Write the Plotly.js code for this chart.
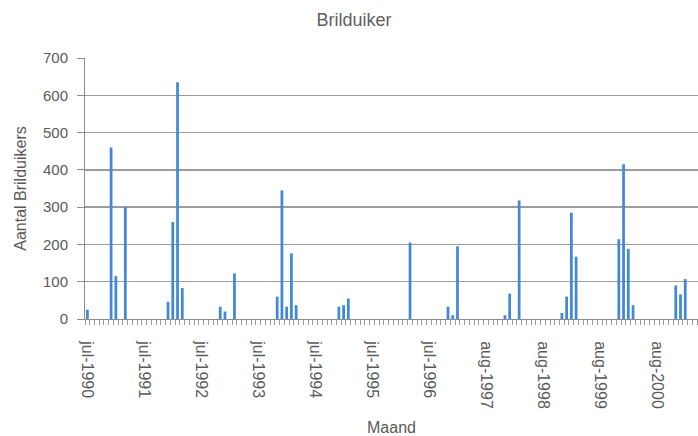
<!DOCTYPE html>
<html>
<head>
<meta charset="utf-8">
<script src="https://cdn.plot.ly/plotly-3.0.1.min.js"></script>
<style>
  html, body { margin: 0; padding: 0; background: #ffffff; }
  #chart { width: 698px; height: 436px; }
</style>
</head>
<body>
<div id="chart"></div>
<script>
// Monthly counts of Brilduikers (common goldeneye), jul-1990 onwards.
// jul-1997 has no record, so the series runs from jun-1997 straight to aug-1997.
const categories = [
  "jul-1990","aug-1990","sep-1990","okt-1990","nov-1990","dec-1990",
  "jan-1991","feb-1991","mrt-1991","apr-1991","mei-1991","jun-1991","jul-1991","aug-1991","sep-1991","okt-1991","nov-1991","dec-1991",
  "jan-1992","feb-1992","mrt-1992","apr-1992","mei-1992","jun-1992","jul-1992","aug-1992","sep-1992","okt-1992","nov-1992","dec-1992",
  "jan-1993","feb-1993","mrt-1993","apr-1993","mei-1993","jun-1993","jul-1993","aug-1993","sep-1993","okt-1993","nov-1993","dec-1993",
  "jan-1994","feb-1994","mrt-1994","apr-1994","mei-1994","jun-1994","jul-1994","aug-1994","sep-1994","okt-1994","nov-1994","dec-1994",
  "jan-1995","feb-1995","mrt-1995","apr-1995","mei-1995","jun-1995","jul-1995","aug-1995","sep-1995","okt-1995","nov-1995","dec-1995",
  "jan-1996","feb-1996","mrt-1996","apr-1996","mei-1996","jun-1996","jul-1996","aug-1996","sep-1996","okt-1996","nov-1996","dec-1996",
  "jan-1997","feb-1997","mrt-1997","apr-1997","mei-1997","jun-1997","aug-1997","sep-1997","okt-1997","nov-1997","dec-1997",
  "jan-1998","feb-1998","mrt-1998","apr-1998","mei-1998","jun-1998","jul-1998","aug-1998","sep-1998","okt-1998","nov-1998","dec-1998",
  "jan-1999","feb-1999","mrt-1999","apr-1999","mei-1999","jun-1999","jul-1999","aug-1999","sep-1999","okt-1999","nov-1999","dec-1999",
  "jan-2000","feb-2000","mrt-2000","apr-2000","mei-2000","jun-2000","jul-2000","aug-2000","sep-2000","okt-2000","nov-2000","dec-2000",
  "jan-2001","feb-2001","mrt-2001","apr-2001","mei-2001"
];

const counts = [
  25, 0, 0, 0, 0, 460,
  115, 0, 300, 0, 0, 0, 0, 0, 0, 0, 0, 46,
  260, 635, 83, 0, 0, 0, 0, 0, 0, 0, 33, 20,
  0, 122, 0, 0, 0, 0, 0, 0, 0, 0, 60, 345,
  33, 176, 37, 0, 0, 0, 0, 0, 0, 0, 0, 33,
  37, 55, 0, 0, 0, 0, 0, 0, 0, 0, 0, 0,
  0, 0, 205, 0, 0, 0, 0, 0, 0, 0, 33, 10,
  195, 0, 0, 0, 0, 0, 0, 0, 0, 0, 10,
  68, 0, 318, 0, 0, 0, 0, 0, 0, 0, 0, 16,
  60, 285, 167, 0, 0, 0, 0, 0, 0, 0, 0, 214,
  415, 188, 37, 0, 0, 0, 0, 0, 0, 0, 0, 90,
  66, 107, 0, 0, 0
];

const tickLabels = [
  "jul-1990","jul-1991","jul-1992","jul-1993","jul-1994","jul-1995",
  "jul-1996","aug-1997","aug-1998","aug-1999","aug-2000"
];

const positions = categories.map((_, i) => i);
const tickPositions = tickLabels.map(l => categories.indexOf(l));

const textGray = "#5a5a5a";
const fontFamily = "'Liberation Sans', Arial, sans-serif";

const trace = {
  type: "bar",
  x: positions,
  y: counts,
  hovertext: categories,
  hoverinfo: "text+y",
  marker: { color: "#4189d6", line: { width: 0 } }
};

const layout = {
  width: 698,
  height: 436,
  margin: { l: 85, r: 0, t: 58, b: 117, pad: 0 },
  paper_bgcolor: "#ffffff",
  plot_bgcolor: "#ffffff",
  showlegend: false,
  bargap: 0.42,
  font: { family: fontFamily, color: textGray },
  title: {
    text: "Brilduiker",
    font: { size: 18, color: "#606060", family: fontFamily },
    x: 354 / 698, xref: "container", xanchor: "center",
    y: 1 - 20 / 436, yref: "container", yanchor: "middle"
  },
  xaxis: {
    type: "linear",
    range: [-0.5, (698 - 85) / 4.745 - 0.5],
    tickmode: "array",
    tickvals: tickPositions,
    ticktext: tickLabels,
    tickangle: 90,
    ticks: "",
    ticklabelstandoff: 18,
    tickfont: { size: 16, color: textGray },
    showgrid: false,
    zeroline: false,
    showline: true,
    linecolor: "#8c8c8c",
    linewidth: 1,
    minor: {
      tickmode: "linear",
      tick0: 0.5,
      dtick: 1,
      ticks: "outside",
      ticklen: 5,
      tickwidth: 1,
      tickcolor: "#9a9a9a",
      showgrid: false
    },
    title: {
      text: "Maand",
      font: { size: 16, color: textGray },
      standoff: 14
    }
  },
  yaxis: {
    range: [0, 700],
    dtick: 100,
    ticks: "outside",
    ticklen: 7,
    tickcolor: "#8c8c8c",
    ticklabelstandoff: 6,
    tickfont: { size: 15, color: textGray },
    showgrid: true,
    gridcolor: "#9c9c9c",
    gridwidth: 1.5,
    zeroline: false,
    showline: true,
    linecolor: "#8c8c8c",
    linewidth: 1,
    title: {
      text: "Aantal Brilduikers",
      font: { size: 16, color: textGray },
      standoff: 12
    }
  }
};

Plotly.newPlot("chart", [trace], layout, { displayModeBar: false, staticPlot: true });
</script>
</body>
</html>
